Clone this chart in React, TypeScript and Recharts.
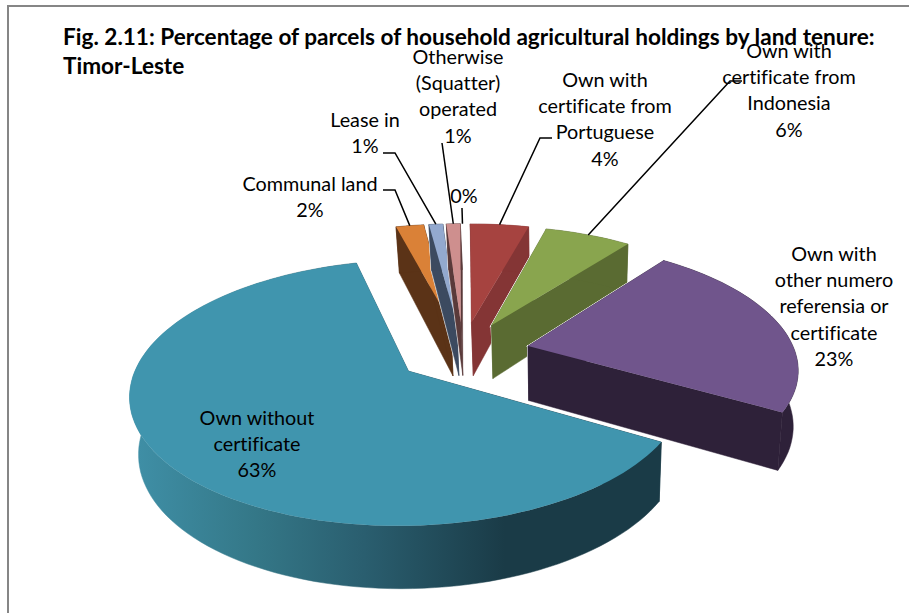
import { PieChart, Pie } from 'recharts';

const tenureLabels = [
  ['Communal land'],
  ['Lease in'],
  ['Otherwise', '(Squatter)', 'operated'],
  [],
  ['Own with', 'certificate from', 'Portuguese'],
  ['Own with', 'certificate from', 'Indonesia'],
  ['Own with', 'other numero', 'referensia or', 'certificate'],
  ['Own without', 'certificate'],
];
const tenureValues = [2.0, 1.0, 1.0, 0.05, 4.2, 6.2, 23.0, 62.55];
const shownPercents = ['2%', '1%', '1%', '0%', '4%', '6%', '23%', '63%'];

const topColors = ['#DA8137', '#93A9CF', '#CE8F8E', '#FFFFFF', '#A64340', '#89A54E', '#70558C', '#4095AE'];
const wallColors = ['#5B3317', '#3C4A60', '#5A3A3A', '#FFFFFF', '#843535', '#5A6B32', '#2E2139', 'url(#blueWall)'];

// where each label sits: centre x, y of first line, then the leader's elbow points
const labelSpots: { x: number; y: number; leader?: number[][] }[] = [
  { x: 310, y: 191, leader: [[383, 190], [395, 190]] },
  { x: 365, y: 127, leader: [[383, 153], [395, 153]] },
  { x: 458, y: 64, leader: [[442, 143]] },
  { x: 464, y: 203, leader: [[462, 208]] },
  { x: 605, y: 87, leader: [[552, 138], [540, 138]] },
  { x: 789, y: 58, leader: [[742, 81], [730, 81]] },
  { x: 834, y: 261 },
  { x: 257, y: 425 },
];

const FONT = 'Lato, sans-serif';
const LINE = 26.2;

// projection of the tilted pie
const X0 = 463;
const Y0 = 352;
const SCALE_X = 267;
const SCALE_Y = 123.2;
const PERSP = 0.16;
const EXPLODE = 0.25;

const rad = (d: number) => (d * Math.PI) / 180;

function topPoint(theta: number, r: number, mid: number) {
  const X = EXPLODE * Math.sin(rad(mid)) + r * Math.sin(rad(theta));
  const Y = -EXPLODE * Math.cos(rad(mid)) - r * Math.cos(rad(theta));
  const s = 1 / (1 - PERSP * Y);
  return { x: X0 + SCALE_X * X * s, y: Y0 + SCALE_Y * Y * s, Y };
}

function lowPoint(theta: number, r: number, mid: number) {
  const p = topPoint(theta, r, mid);
  return { x: p.x - 0.021 * (p.x - 560), y: p.y + 54.8 + 7 * p.Y };
}

type Pt = { x: number; y: number };
const toPath = (pts: Pt[]) => 'M' + pts.map((p) => `${p.x.toFixed(1)},${p.y.toFixed(1)}`).join('L') + 'Z';

function arcThetas(a: number, b: number) {
  const out: number[] = [];
  const n = Math.max(2, Math.ceil((b - a) / 2));
  for (let i = 0; i <= n; i++) out.push(a + ((b - a) * i) / n);
  return out;
}

function Slice3D(props: any) {
  const { startAngle, endAngle, index } = props;
  if (tenureValues[index] < 0.5) return null;
  const a = 90 - startAngle;
  const b = 90 - endAngle;
  const mid = (a + b) / 2;
  const thetas = arcThetas(a, b);
  const topArc = thetas.map((t) => topPoint(t, 1, mid));
  const lowArc = thetas.map((t) => lowPoint(t, 1, mid));
  const apex = topPoint(a, 0, mid);
  const apexLow = lowPoint(a, 0, mid);
  const top = toPath([apex, ...topArc]);
  const outer = toPath([...topArc, ...[...lowArc].reverse()]);
  const cutA = toPath([apex, topArc[0], lowArc[0], apexLow]);
  const cutB = toPath([apex, topArc[topArc.length - 1], lowArc[lowArc.length - 1], apexLow]);
  const wall = wallColors[index];
  return (
    <g>
      {index === 7 && (
        <defs>
          <linearGradient id="blueWall" gradientUnits="userSpaceOnUse" x1="135" y1="0" x2="505" y2="0">
            <stop offset="0" stopColor="#3F8FA6" />
            <stop offset="0.33" stopColor="#347787" />
            <stop offset="0.62" stopColor="#2A5E6F" />
            <stop offset="1" stopColor="#1A3B47" />
          </linearGradient>
        </defs>
      )}
      {[cutA, cutB, outer, top].map((d, i) => (
        <path key={i} d={d} fill="none" stroke="#fff" strokeWidth={1.6} />
      ))}
      <path d={cutA} fill={wall} stroke={wall} strokeWidth={0.5} />
      <path d={cutB} fill={wall} stroke={wall} strokeWidth={0.5} />
      <path d={outer} fill={wall} stroke={wall} strokeWidth={0.5} />
      <path d={top} fill={topColors[index]} />
    </g>
  );
}

function SliceLabel(props: any) {
  const { index, startAngle, endAngle } = props;
  const spot = labelSpots[index];
  const a = 90 - startAngle;
  const b = 90 - endAngle;
  const mid = (a + b) / 2;
  const end = topPoint(mid, 1, mid);
  const lines = [...tenureLabels[index], shownPercents[index]];
  return (
    <g>
      {spot.leader && (
        <polyline
          points={[...spot.leader, [end.x, end.y]].map((p) => p.join(',')).join(' ')}
          fill="none"
          stroke="#000"
          strokeWidth={1.5}
        />
      )}
      <text
        x={spot.x}
        y={spot.y}
        textAnchor="middle"
        fontFamily={FONT}
        fontSize={19.8}
        fill="#000"
        style={{ fontVariantLigatures: 'none' }}
      >
        {lines.map((line, i) => (
          <tspan key={i} x={spot.x} y={spot.y + i * LINE}>
            {line}
          </tspan>
        ))}
      </text>
    </g>
  );
}

const chartData = tenureLabels.map((lines, i) => ({ name: lines.join(' '), value: tenureValues[i] }));

export default function App() {
  const start = 90 - 345.4;
  return (
    <div style={{ position: 'fixed', left: 0, top: 0, width: 909, height: 613, background: '#fff', overflow: 'hidden' }}>
      <div style={{ position: 'absolute', left: 7, top: 5, width: 902, height: 608, borderLeft: '2px solid #868686', borderTop: '2px solid #868686' }} />
      <div
        style={{
          position: 'absolute', left: 63, top: 22, width: 830,
          fontFamily: FONT, fontWeight: 700, fontSize: 22.6, lineHeight: '29px', color: '#000', whiteSpace: 'nowrap',
        }}
      >
        Fig. 2.11: Percentage of parcels of household agricultural holdings by land tenure:
        <br />
        Timor-Leste
      </div>
      <div style={{ position: 'absolute', left: 0, top: 0 }}>
        <PieChart width={909} height={613} margin={{ top: 0, right: 0, bottom: 0, left: 0 }}>
          <Pie
            data={chartData}
            dataKey="value"
            cx={463}
            cy={353}
            outerRadius={200}
            startAngle={start}
            endAngle={start - 360}
            isAnimationActive={false}
            shape={Slice3D}
            label={SliceLabel}
            labelLine={false}
          />
        </PieChart>
      </div>
    </div>
  );
}
